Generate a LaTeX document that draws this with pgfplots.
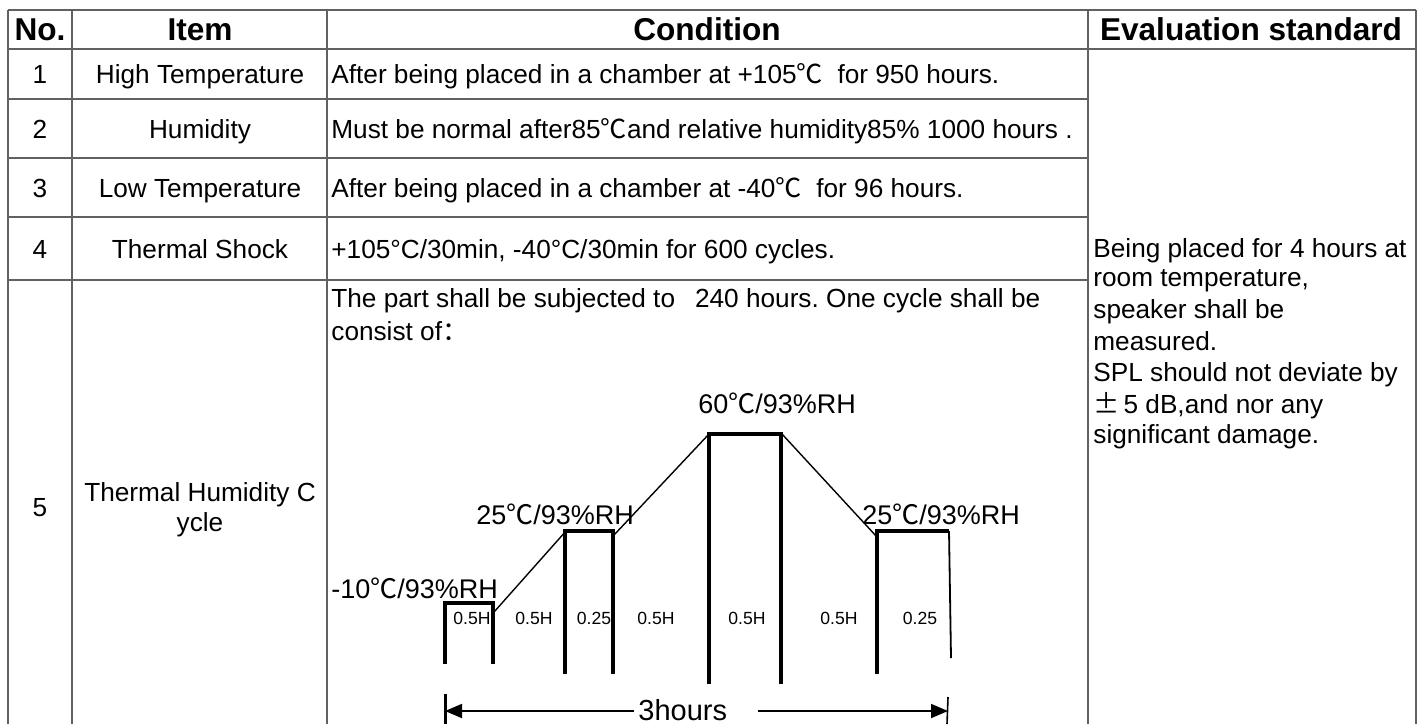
\documentclass[border=0pt]{standalone}
\usepackage{pgfplots}
\pgfplotsset{compat=1.18}
\usepackage{fontspec}
\setmainfont{Liberation Sans}
\newfontfamily\cjk{Noto Sans CJK SC}
\newcommand{\dc}{{\cjk ℃}}
\usetikzlibrary{arrows.meta}
\frenchspacing
\tikzset{
  tab/.style={no marks, color=black!62, line width=0.65pt},
  thick box/.style={no marks, color=black, line width=1.6pt},
  thin diag/.style={no marks, color=black, line width=0.7pt},
  body/.style={font=\fontsize{13.1pt}{15pt}\selectfont, inner sep=0pt},
  head/.style={font=\fontsize{15.8pt}{17pt}\selectfont\bfseries, inner sep=0pt},
  lab/.style={font=\fontsize{13.5pt}{15pt}\selectfont, inner sep=0pt},
  small/.style={font=\fontsize{8.8pt}{10pt}\selectfont, inner sep=0pt},
}
\begin{document}
\begin{tikzpicture}
\begin{axis}[
  width=713.5pt, height=362pt, scale only axis,
  xmin=0, xmax=1427, ymin=0, ymax=724, y dir=reverse,
  hide axis, clip=false,
]
% ---- table grid ----
\addplot[tab] coordinates {(8,10) (1416,10)};
\addplot[tab] coordinates {(8,49) (1416,49)};
\addplot[tab] coordinates {(8,99) (1088,99)};
\addplot[tab] coordinates {(8,158) (1088,158)};
\addplot[tab] coordinates {(8,217) (1088,217)};
\addplot[tab] coordinates {(8,280) (1088,280)};
\addplot[tab] coordinates {(8,10) (8,724)};
\addplot[tab] coordinates {(72,10) (72,724)};
\addplot[tab] coordinates {(327,10) (327,724)};
\addplot[tab] coordinates {(1088,10) (1088,724)};
\addplot[tab] coordinates {(1416,10) (1416,724)};

% ---- diagram ----
\addplot[thick box] coordinates {(445,664) (445,603) (493,603) (493,664)};
\addplot[thin diag] coordinates {(494,612) (566,531)};
\addplot[thick box] coordinates {(565,674) (565,531) (613,531) (613,674)};
\addplot[thin diag] coordinates {(614,535) (709,434)};
\addplot[thick box] coordinates {(709,684) (709,434) (781,434) (781,684)};
\addplot[thin diag] coordinates {(782,434) (877,537)};
\addplot[thick box] coordinates {(877,674) (877,531) (949,531)};
\addplot[no marks, black, line width=0.9pt] coordinates {(949,531) (951,658)};
% 3 hours arrow
\addplot[no marks, black, line width=1.5pt] coordinates {(445,694) (445,724)};
\addplot[no marks, black, line width=0.8pt] coordinates {(948,697) (947,724)};
\addplot[no marks, black, line width=0.9pt, -{Triangle[length=8.5pt,width=7pt]}] coordinates {(634,711) (445,711)};
\addplot[no marks, black, line width=0.9pt, -{Triangle[length=8.5pt,width=7pt]}] coordinates {(758,711) (948,711)};

% ---- header ----
\node[head, anchor=base] at (axis cs:40,40) {No.};
\node[head, anchor=base] at (axis cs:200,40) {Item};
\node[head, anchor=base] at (axis cs:707,40) {Condition};
\node[head, anchor=base] at (axis cs:1251,40) {Evaluation standard};

% ---- rows ----
\node[body, anchor=base] at (axis cs:40,83) {1};
\node[body, anchor=base] at (axis cs:40,138) {2};
\node[body, anchor=base] at (axis cs:40,197) {3};
\node[body, anchor=base] at (axis cs:40,258) {4};
\node[body, anchor=base] at (axis cs:40,516) {5};

\node[body, anchor=base] at (axis cs:200,83) {High Temperature};
\node[body, anchor=base] at (axis cs:200,138) {Humidity};
\node[body, anchor=base] at (axis cs:200,197) {Low Temperature};
\node[body, anchor=base] at (axis cs:200,258) {Thermal Shock};
\node[body, anchor=base] at (axis cs:200,501) {Thermal Humidity C};
\node[body, anchor=base] at (axis cs:200,531) {ycle};

\node[body, anchor=base west] at (axis cs:331,83) {After being placed in a chamber at +105\dc\ \ for 950 hours.};
\node[body, anchor=base west] at (axis cs:331,138) {Must be normal after85\dc and relative humidity85\% 1000 hours .};
\node[body, anchor=base west] at (axis cs:331,197) {After being placed in a chamber at -40\dc\ \ for 96 hours.};
\node[body, anchor=base west] at (axis cs:331,258) {+105°C/30min, -40°C/30min for 600 cycles.};
\node[body, anchor=base west] at (axis cs:331,307) {The part shall be subjected to\hspace{10pt}240 hours. One cycle shall be};
\node[body, anchor=base west] at (axis cs:331,340) {consist of{\cjk ：}};

% ---- evaluation text ----
\node[body, anchor=base west] at (axis cs:1093,257) {Being placed for 4 hours at};
\node[body, anchor=base west] at (axis cs:1093,286) {room temperature,};
\node[body, anchor=base west] at (axis cs:1093,318) {speaker shall be};
\node[body, anchor=base west] at (axis cs:1093,350) {measured.};
\node[body, anchor=base west] at (axis cs:1093,381) {SPL should not deviate by};
\node[body, anchor=base west] at (axis cs:1093,413) {{\cjk ±}\hspace{2pt}5 dB,and nor any};
\node[body, anchor=base west] at (axis cs:1093,443) {significant damage.};

% ---- diagram labels ----
\node[lab, anchor=base west] at (axis cs:331,598) {-10\dc/93\%RH};
\node[lab, anchor=base west] at (axis cs:476,524) {25\dc/93\%RH};
\node[lab, anchor=base west] at (axis cs:698,413) {60\dc/93\%RH};
\node[lab, anchor=base west] at (axis cs:862,524) {25\dc/93\%RH};
\node[small, anchor=base] at (axis cs:472,624) {0.5H};
\node[small, anchor=base] at (axis cs:534,624) {0.5H};
\node[small, anchor=base] at (axis cs:594,624) {0.25};
\node[small, anchor=base] at (axis cs:656,624) {0.5H};
\node[small, anchor=base] at (axis cs:747,624) {0.5H};
\node[small, anchor=base] at (axis cs:839,624) {0.5H};
\node[small, anchor=base] at (axis cs:920,624) {0.25};
\node[font=\fontsize{14.5pt}{16pt}\selectfont, inner sep=0pt, anchor=base west] at (axis cs:638,720) {3hours};
\end{axis}
\pgfresetboundingbox
\path[use as bounding box] (current axis.south west) rectangle (current axis.north east);
\end{tikzpicture}
\end{document}
